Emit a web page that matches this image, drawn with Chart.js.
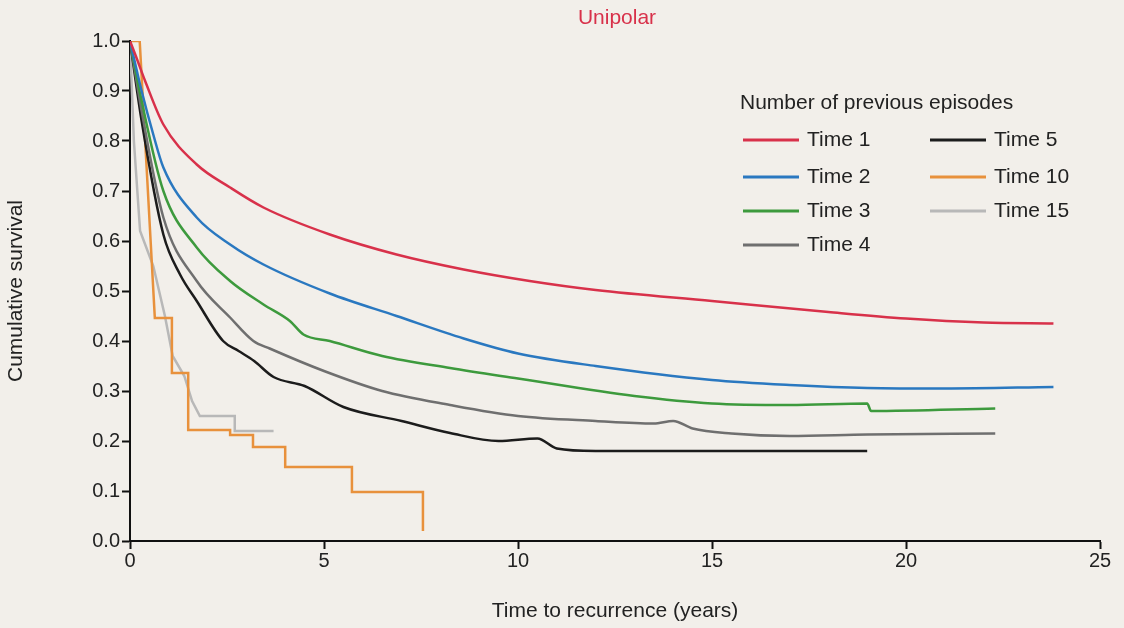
<!DOCTYPE html>
<html>
<head>
<meta charset="utf-8">
<script src="https://cdn.jsdelivr.net/npm/chart.js@4/dist/chart.umd.min.js"></script>
<style>
  body { margin: 0; background: #f2efea; }
  #wrap { width: 1124px; height: 628px; }
</style>
</head>
<body>
<div id="wrap"><canvas id="myChart" width="1124" height="628"></canvas></div>
<script>
const xTicks = [0, 5, 10, 15, 20, 25];
const yTicks = [0, 0.1, 0.2, 0.3, 0.4, 0.5, 0.6, 0.7, 0.8, 0.9, 1.0];

const time1 = [[0,1],[0.15,0.97],[0.39,0.92],[0.86,0.833],[1.72,0.753],[2.58,0.707],[3.44,0.667],[5.15,0.613],[6.87,0.573],[8.6,0.543],[10.3,0.52],[12,0.502],[15,0.48],[18,0.458],[20,0.445],[22,0.437],[23.8,0.435]];
const time2 = [[0,1],[0.3,0.9],[0.6,0.813],[0.86,0.747],[1.72,0.647],[2.58,0.593],[3.44,0.553],[5.15,0.495],[6.87,0.45],[8.6,0.405],[10,0.375],[12,0.35],[15,0.322],[17,0.312],[19,0.306],[21,0.305],[23.8,0.308]];
const time3 = [[0,1],[0.3,0.88],[0.86,0.7],[1.72,0.587],[2.58,0.52],[3.44,0.473],[4.12,0.44],[4.47,0.413],[5.15,0.40],[6.5,0.37],[8.25,0.346],[10,0.325],[13,0.29],[15,0.275],[17,0.272],[19,0.275],[19.1,0.26],[22.3,0.265]];
const time4 = [[0,1],[0.3,0.86],[0.86,0.647],[1.72,0.52],[2.58,0.447],[3.18,0.4],[3.6,0.385],[5,0.34],[6.5,0.30],[8.25,0.272],[10,0.25],[12,0.24],[13.5,0.235],[14,0.24],[14.5,0.225],[15.5,0.215],[17,0.21],[19,0.213],[22.3,0.215]];
const time5 = [[0,1],[0.3,0.84],[0.86,0.613],[1.29,0.533],[1.72,0.48],[2.4,0.4],[2.8,0.38],[3.2,0.36],[3.7,0.328],[4.5,0.31],[5.5,0.268],[7,0.24],[8.25,0.216],[9.5,0.2],[10.5,0.205],[11,0.185],[12,0.18],[19,0.18]];
const time10 = [[0,1],[0.25,1],[0.64,0.446],[1.08,0.446],[1.08,0.336],[1.5,0.336],[1.5,0.222],[2.58,0.222],[2.58,0.212],[3.17,0.212],[3.17,0.188],[4.0,0.188],[4.0,0.148],[5.72,0.148],[5.72,0.098],[7.55,0.098],[7.55,0.02]];
const time15 = [[0,1],[0.1,0.8],[0.26,0.62],[0.6,0.55],[0.9,0.45],[1.1,0.37],[1.4,0.33],[1.6,0.28],[1.8,0.25],[2.7,0.25],[2.7,0.22],[3.7,0.22]];

const seriesNames = ['Time 1','Time 2','Time 3','Time 4','Time 5','Time 10','Time 15'];
const seriesData = [time1, time2, time3, time4, time5, time10, time15];
const seriesColors = ['#d8314a','#2a78c0','#3d9a3d','#6f6f6f','#1c1c1c','#e8913c','#b8b8b8'];

const legendPlugin = {
  id: 'customLegend',
  afterDraw(chart) {
    const c = chart.ctx;
    c.save();
    c.fillStyle = '#d8314a';
    c.font = '21px "Liberation Sans", Arial, sans-serif';
    c.textAlign = 'center';
    c.textBaseline = 'middle';
    c.fillText('Unipolar', 617, 18);
    c.fillStyle = '#222';
    c.textAlign = 'left';
    c.fillText('Number of previous episodes', 740, 103);
    const pos = [[743,140],[743,177],[743,211],[743,245],[930,140],[930,177],[930,211]];
    seriesNames.forEach((n, i) => {
      const [x, y] = pos[i];
      c.strokeStyle = seriesColors[i];
      c.lineWidth = 3;
      c.beginPath(); c.moveTo(x, y); c.lineTo(x + 56, y); c.stroke();
      c.fillStyle = '#222';
      c.fillText(n, x + 64, y);
    });
    c.restore();
  }
};

new Chart(document.getElementById('myChart'), {
  type: 'line',
  data: {
    datasets: seriesData.map((d, i) => ({
      label: seriesNames[i],
      data: d.map(p => ({ x: p[0], y: p[1] })),
      borderColor: seriesColors[i],
      borderWidth: 2.5,
      pointRadius: 0,
      cubicInterpolationMode: i < 5 ? 'monotone' : 'default',
      tension: 0,
      fill: false
    }))
  },
  options: {
    responsive: false,
    animation: false,
    layout: { padding: { top: 41, right: 24 } },
    plugins: { legend: { display: false }, tooltip: { enabled: false } },
    scales: {
      x: {
        type: 'linear', min: 0, max: 25,
        afterFit(s) { s.height = 87; },
        afterBuildTicks(s) { s.ticks = xTicks.map(v => ({ value: v })); },
        grid: { display: true, drawOnChartArea: false, drawTicks: true, tickLength: 8, tickColor: '#111', tickWidth: 2 },
        border: { color: '#111', width: 2 },
        ticks: { color: '#222', font: { size: 20, family: '"Liberation Sans", Arial' }, padding: 0 },
        title: { display: true, text: 'Time to recurrence (years)', color: '#222', font: { size: 21, family: '"Liberation Sans", Arial' }, padding: { top: 4 } }
      },
      y: {
        min: 0, max: 1,
        afterFit(s) { s.width = 130; },
        afterBuildTicks(s) { s.ticks = yTicks.map(v => ({ value: v })); },
        grid: { display: true, drawOnChartArea: false, tickLength: 8, tickColor: '#111', tickWidth: 2 },
        border: { color: '#111', width: 2 },
        ticks: { color: '#222', font: { size: 20, family: '"Liberation Sans", Arial' }, padding: 2, callback: v => v.toFixed(1) },
        title: { display: true, text: 'Cumulative survival', color: '#222', font: { size: 21, family: '"Liberation Sans", Arial' }, padding: { bottom: 18 } }
      }
    }
  },
  plugins: [legendPlugin]
});
</script>
</body>
</html>
